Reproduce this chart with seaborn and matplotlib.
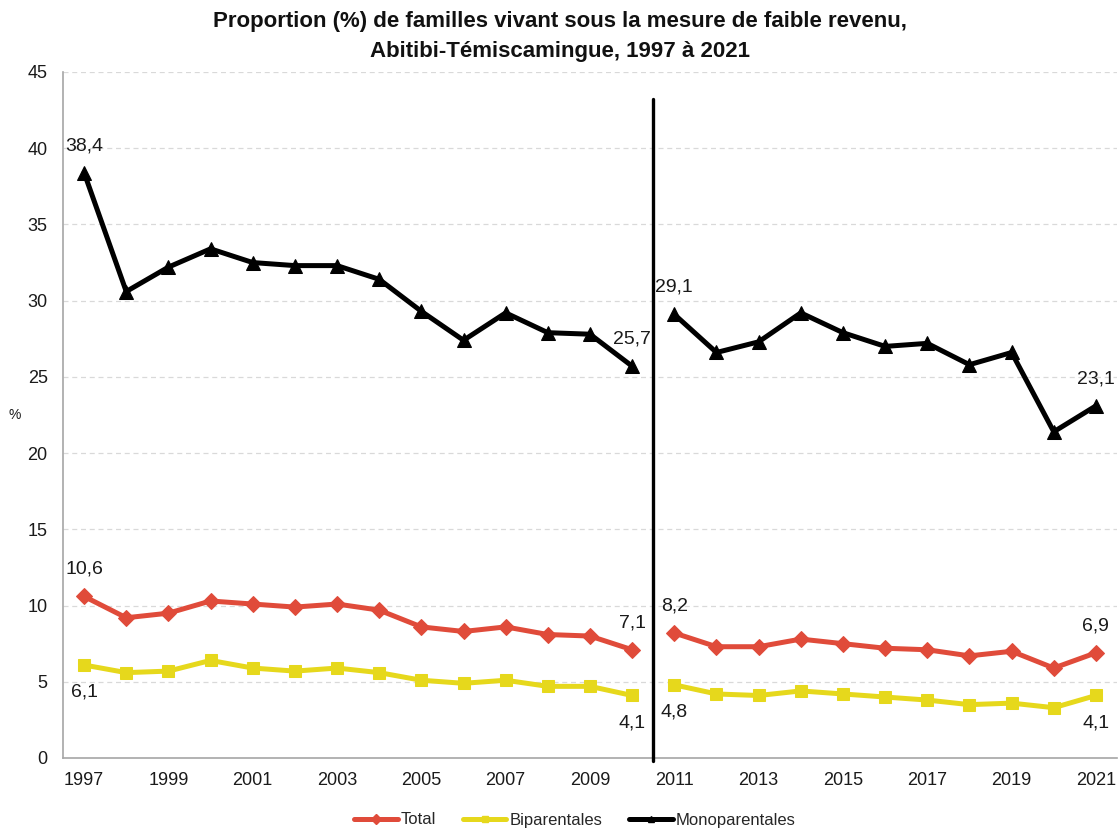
import pandas as pd
import numpy as np
import matplotlib
matplotlib.use('Agg')
import matplotlib.pyplot as plt
from matplotlib.lines import Line2D
import seaborn as sns

annees = list(range(1997, 2022))
total = [10.6, 9.2, 9.5, 10.3, 10.1, 9.9, 10.1, 9.7, 8.6, 8.3, 8.6, 8.1, 8.0, 7.1,
         8.2, 7.3, 7.3, 7.8, 7.5, 7.2, 7.1, 6.7, 7.0, 5.9, 6.9]
biparentales = [6.1, 5.6, 5.7, 6.4, 5.9, 5.7, 5.9, 5.6, 5.1, 4.9, 5.1, 4.7, 4.7, 4.1,
                4.8, 4.2, 4.1, 4.4, 4.2, 4.0, 3.8, 3.5, 3.6, 3.3, 4.1]
monoparentales = [38.4, 30.6, 32.2, 33.4, 32.5, 32.3, 32.3, 31.4, 29.3, 27.4, 29.2, 27.9, 27.8, 25.7,
                  29.1, 26.6, 27.3, 29.2, 27.9, 27.0, 27.2, 25.8, 26.6, 21.4, 23.1]
series = ['Total', 'Biparentales', 'Monoparentales']
couleurs = {'Total': '#E04B3A', 'Biparentales': '#E6D81C', 'Monoparentales': '#000000'}
marqueurs = {'Total': 'D', 'Biparentales': 's', 'Monoparentales': '^'}
tailles = {'Total': 8, 'Biparentales': 9, 'Monoparentales': 10}
annee_rupture = 2011

rows = []
for nom, vals in zip(series, [total, biparentales, monoparentales]):
    for i, (a, v) in enumerate(zip(annees, vals)):
        rows.append({'pos': i, 'annee': a, 'valeur': v, 'serie': nom,
                     'segment': 0 if a < annee_rupture else 1})
df = pd.DataFrame(rows)

sns.set_style('white')
plt.rcParams['font.family'] = ['Liberation Sans', 'DejaVu Sans']

fig = plt.figure(figsize=(11.2, 8.31), dpi=100)
ax = fig.add_axes([63/1120, 1-758/831, (1117-63)/1120, (758-72)/831])

for nom in series:
    sub = df[df.serie == nom]
    sns.lineplot(data=sub, x='pos', y='valeur', units='segment', estimator=None,
                 color=couleurs[nom], marker=marqueurs[nom], markersize=tailles[nom],
                 markeredgecolor=couleurs[nom], linewidth=3.6, ax=ax, legend=False)

# rupture de série
i_rupt = annees.index(annee_rupture) - 0.5
ax.plot([i_rupt, i_rupt], [-0.2, 43.2], color='black', linewidth=2.4, clip_on=False, zorder=5)

# étiquettes des extrémités
def fmt(v):
    return f'{v:.1f}'.replace('.', ',')

ends = [0, annees.index(annee_rupture) - 1, annees.index(annee_rupture), len(annees) - 1]
for nom, vals, sens in [('Total', total, 1), ('Biparentales', biparentales, -1),
                        ('Monoparentales', monoparentales, 1)]:
    for i in ends:
        ax.annotate(fmt(vals[i]), (i, vals[i]), xytext=(0, sens * 19.5), textcoords='offset points',
                    ha='center', va='center', fontsize=14, color='#1a1a1a')

ax.set_xlim(-0.5, len(annees) - 0.5)
ax.set_ylim(0, 45)
ax.set_yticks(np.arange(0, 46, 5))
ax.set_xticks(np.arange(-0.5, len(annees), 1))
ax.set_xticklabels([])
ax.set_xticks(np.arange(0, len(annees), 2), minor=True)
ax.set_xticklabels([str(a) for a in annees[::2]], minor=True)
ax.tick_params(axis='x', which='major', length=6, width=1, color='#A6A6A6', direction='out')
ax.tick_params(axis='x', which='minor', length=0, pad=10, labelsize=13, labelcolor='#1a1a1a')
ax.tick_params(axis='y', length=5, width=1, color='#A6A6A6', direction='out', pad=6,
               labelsize=13, labelcolor='#1a1a1a')
ax.yaxis.grid(True, linestyle=(0, (4, 3)), color='#D9D9D9', linewidth=0.9)
ax.set_axisbelow(True)
for s in ['top', 'right']:
    ax.spines[s].set_visible(False)
for s in ['left', 'bottom']:
    ax.spines[s].set_color('#A6A6A6')
    ax.spines[s].set_linewidth(1.2)

ax.set_xlabel('')
ax.set_ylabel('%', rotation=0, fontsize=10, color='#1a1a1a')
ax.yaxis.set_label_coords((15-63)/1054, 0.49)

fig.text(0.5, 1-22/831, 'Proportion (%) de familles vivant sous la mesure de faible revenu,',
         ha='center', va='center', fontsize=16, fontweight='bold', color='#111111')
fig.text(0.5, 1-52/831, 'Abitibi-Témiscamingue, 1997 à 2021',
         ha='center', va='center', fontsize=16, fontweight='bold', color='#111111')

handles = [Line2D([0], [0], color=couleurs[n], marker=marqueurs[n], markersize=5, linewidth=3.6)
           for n in series]
fig.legend(handles, series, loc='center', bbox_to_anchor=(575/1120, 1-820/831), ncol=3,
           frameon=False, fontsize=12, handlelength=2.6, handletextpad=0.2, columnspacing=1.6)

fig.savefig('out.png', dpi=100)
